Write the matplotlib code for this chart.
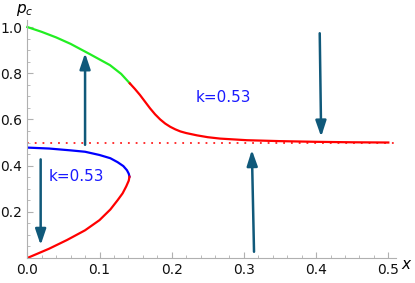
import matplotlib
matplotlib.use("Agg")
import matplotlib.pyplot as plt
from matplotlib.ticker import MultipleLocator

# upper branch (green part, then red part)
up_green_x = [0.0, 0.02, 0.04, 0.06, 0.087, 0.1145, 0.13, 0.142]
up_green_y = [1.0, 0.979, 0.955, 0.927, 0.882, 0.835, 0.797, 0.756]
up_red_x = [0.142, 0.149, 0.156, 0.163, 0.170, 0.177, 0.184, 0.191, 0.198,
            0.205, 0.212, 0.220, 0.235, 0.250, 0.267, 0.304, 0.35, 0.40, 0.45, 0.50]
up_red_y = [0.756, 0.732, 0.706, 0.677, 0.648, 0.622, 0.600, 0.582, 0.568,
            0.557, 0.548, 0.541, 0.531, 0.523, 0.517, 0.510, 0.506, 0.503, 0.501, 0.500]

# lower branches meeting at the fold
low_blue_x = [0.0, 0.03, 0.06, 0.08, 0.10, 0.115, 0.125, 0.133, 0.138, 0.1405, 0.1415]
low_blue_y = [0.478, 0.474, 0.466, 0.460, 0.446, 0.432, 0.415, 0.398, 0.380, 0.365, 0.352]
low_red_x = [0.1415, 0.1405, 0.137, 0.132, 0.125, 0.115, 0.100, 0.080, 0.055, 0.030, 0.0]
low_red_y = [0.352, 0.335, 0.310, 0.280, 0.250, 0.210, 0.164, 0.120, 0.078, 0.040, 0.0]

p_line = 0.5

# arrows: (x_start, y_start, x_end, y_end)
arrows = [
    (0.080, 0.490, 0.080, 0.887),
    (0.0185, 0.427, 0.0185, 0.056),
    (0.314, 0.027, 0.311, 0.468),
    (0.405, 0.973, 0.407, 0.525),
]

labels = [("k=0.53", 0.272, 0.697), ("k=0.53", 0.0675, 0.353)]

fig = plt.figure(figsize=(4.15, 2.83), dpi=100)
ax = fig.add_axes([0.0658, 0.0883, 0.8873, 0.8407])

ax.axhline(p_line, color="#ff2020", ls=(0, (1, 3.3)), lw=1.3, zorder=1)
ax.plot(up_green_x, up_green_y, color="#22ee22", lw=1.6, clip_on=False, zorder=2)
ax.plot(up_red_x, up_red_y, color="#ff0000", lw=1.6, zorder=2)
ax.plot(low_blue_x, low_blue_y, color="#0000ff", lw=1.6, zorder=2)
ax.plot(low_red_x, low_red_y, color="#ff0000", lw=1.6, zorder=2)

for x0, y0, x1, y1 in arrows:
    ax.annotate("", xy=(x1, y1), xytext=(x0, y0),
                arrowprops=dict(arrowstyle="-|>,head_length=0.95,head_width=0.32",
                                color="#10597a", lw=1.8, shrinkA=0, shrinkB=0,
                                mutation_scale=10), zorder=3)

for txt, tx, ty in labels:
    ax.text(tx, ty, txt, color="#1a1aff", fontsize=11, ha="center", va="center")

ax.set_xlim(0, 0.51)
ax.set_ylim(0, 1.03)
ax.spines["top"].set_visible(False)
ax.spines["right"].set_visible(False)
for s in ("left", "bottom"):
    ax.spines[s].set_color("#b0b0b0")
    ax.spines[s].set_linewidth(0.8)

ax.set_xticks([0.0, 0.1, 0.2, 0.3, 0.4, 0.5])
ax.set_xticklabels(["0.0", "0.1", "0.2", "0.3", "0.4", "0.5"])
ax.set_yticks([0.2, 0.4, 0.6, 0.8, 1.0])
ax.set_yticklabels(["0.2", "0.4", "0.6", "0.8", "1.0"])
ax.xaxis.set_minor_locator(MultipleLocator(0.02))
ax.yaxis.set_minor_locator(MultipleLocator(0.05))
ax.tick_params(which="both", direction="in", color="#b0b0b0", labelsize=10,
               labelcolor="#111111")
ax.tick_params(which="major", length=4, width=0.8, pad=3.5)
ax.tick_params(which="minor", length=2.5, width=0.6)

ax.text(0.518, 0.005, "x", fontsize=11, style="italic", ha="left", va="top",
        clip_on=False)
ax.text(-0.004, 1.075, r"$p_c$", fontsize=11, ha="center", va="center",
        clip_on=False)

fig.savefig("out.png", dpi=100)
